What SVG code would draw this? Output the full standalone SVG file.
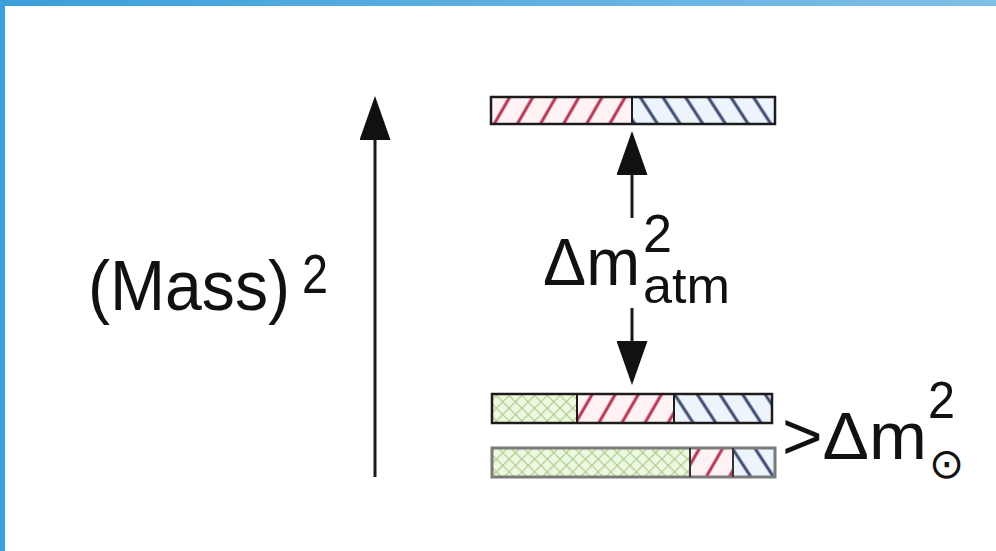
<svg xmlns="http://www.w3.org/2000/svg" width="996" height="551" viewBox="0 0 996 551">
<style>
.t{font-family:"Liberation Sans",Arial,sans-serif;fill:#111}
.ln{stroke:#1a1a1a;stroke-width:3;fill:none}
.bar{stroke:#1c1c1c;stroke-width:2.5}
</style>
<defs>
<linearGradient id="bg" x1="0" y1="0" x2="1" y2="0">
<stop offset="0" stop-color="#3a9fdb"/>
<stop offset="1" stop-color="#80bfe7"/>
</linearGradient>
<pattern id="red" patternUnits="userSpaceOnUse" width="20" height="20" patternTransform="rotate(30)">
<rect width="20" height="20" fill="#fff2f5"/>
<line x1="10" y1="0" x2="10" y2="20" stroke="#b43450" stroke-width="3"/>
</pattern>
<pattern id="blue" patternUnits="userSpaceOnUse" width="19" height="20" patternTransform="rotate(-33)">
<rect width="19" height="20" fill="#eef4fb"/>
<line x1="9" y1="0" x2="9" y2="20" stroke="#3c4a70" stroke-width="3"/>
</pattern>
<pattern id="green" patternUnits="userSpaceOnUse" width="9" height="9" patternTransform="rotate(45)">
<rect width="9" height="9" fill="#eef7e2"/>
<line x1="0" y1="0" x2="9" y2="0" stroke="#acd08c" stroke-width="2.4"/>
<line x1="0" y1="0" x2="0" y2="9" stroke="#acd08c" stroke-width="2.4"/>
</pattern>
<marker id="ah" viewBox="0 0 44 31" refX="0" refY="15.5" markerWidth="44" markerHeight="31" markerUnits="userSpaceOnUse" orient="auto">
<path d="M0,0 L44,15.5 L0,31 z" fill="#111"/>
</marker>
</defs>
<rect width="996" height="551" fill="#fff"/>
<rect x="0" y="0" width="996" height="6" fill="url(#bg)"/>
<rect x="0" y="0" width="5" height="551" fill="#3a9fdb"/>

<g id="connectors">
<line class="ln" x1="375" y1="477" x2="375" y2="140" marker-end="url(#ah)"/>
<line class="ln" x1="632" y1="218" x2="632" y2="175" marker-end="url(#ah)"/>
<line class="ln" x1="632" y1="308" x2="632" y2="341" marker-end="url(#ah)"/>
</g>

<g id="axis-label">
<text class="t" x="88" y="310" font-size="70" textLength="202" lengthAdjust="spacingAndGlyphs">(Mass)</text>
<text class="t" x="302" y="293" font-size="56" textLength="26" lengthAdjust="spacingAndGlyphs">2</text>
</g>

<g id="top-level">
<rect x="491" y="97" width="141" height="27" fill="url(#red)"/>
<rect x="632" y="97" width="143" height="27" fill="url(#blue)"/>
<rect class="bar" x="491" y="97" width="284" height="27" fill="none"/>
<line x1="632" y1="97" x2="632" y2="124" stroke="#1c1c1c" stroke-width="2"/>
</g>

<g id="atm-label">
<text class="t" x="543" y="285" font-size="67" textLength="97" lengthAdjust="spacingAndGlyphs">Δm</text>
<text class="t" x="643" y="252" font-size="54" textLength="29" lengthAdjust="spacingAndGlyphs">2</text>
<text class="t" x="643" y="303" font-size="50" textLength="87" lengthAdjust="spacingAndGlyphs">atm</text>
</g>

<g id="level-2">
<rect x="492" y="394" width="85" height="29" fill="url(#green)"/>
<rect x="577" y="394" width="97" height="29" fill="url(#red)"/>
<rect x="674" y="394" width="98" height="29" fill="url(#blue)"/>
<rect class="bar" x="492" y="394" width="280" height="29" fill="none"/>
<line x1="577" y1="394" x2="577" y2="423" stroke="#1c1c1c" stroke-width="2"/>
<line x1="674" y1="394" x2="674" y2="423" stroke="#1c1c1c" stroke-width="2"/>
</g>

<g id="level-1">
<rect x="492" y="448" width="198" height="29" fill="url(#green)"/>
<rect x="690" y="448" width="43" height="29" fill="url(#red)"/>
<rect x="733" y="448" width="42" height="29" fill="url(#blue)"/>
<rect x="492" y="448" width="283" height="29" fill="none" stroke="#7a7a7a" stroke-width="3"/>
<line x1="690" y1="448" x2="690" y2="477" stroke="#333" stroke-width="2"/>
<line x1="733" y1="448" x2="733" y2="477" stroke="#333" stroke-width="2"/>
</g>

<g id="sol-label">
<text class="t" x="782" y="459" font-size="67" textLength="145" lengthAdjust="spacingAndGlyphs">&gt;Δm</text>
<text class="t" x="928" y="418" font-size="52" textLength="27" lengthAdjust="spacingAndGlyphs">2</text>
<text x="929" y="478" font-size="42" font-family="'DejaVu Sans',sans-serif" fill="#111">⊙</text>
</g>
</svg>
